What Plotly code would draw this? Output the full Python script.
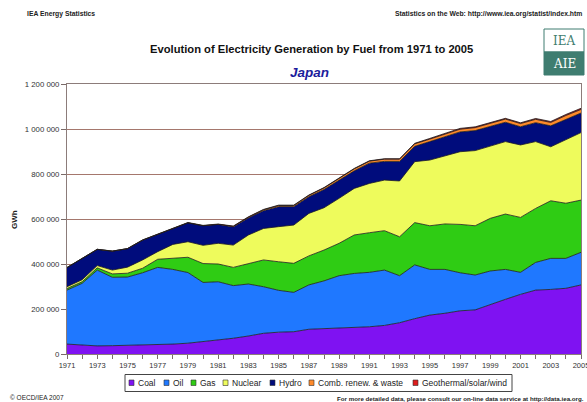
import plotly.graph_objects as go

# ---------------- data (GWh) ----------------
years = list(range(1971, 2006))
fuels = ["Coal", "Oil", "Gas", "Nuclear", "Hydro", "Comb. renew. & waste", "Geothermal/solar/wind"]

coal = [44000, 40000, 36000, 37000, 38000, 40000, 41000, 44000, 48000, 55000,
        62000, 70000, 80000, 92000, 97000, 99000, 110000, 112000, 114000, 116000,
        121000, 127000, 139000, 157000, 173000, 181000, 192000, 196000, 221000, 243000,
        265000, 284000, 287000, 292000, 307000]
oil = [240000, 274000, 337000, 304000, 304000, 321000, 344000, 332000, 314000, 263000,
       259000, 234000, 231000, 207000, 186000, 175000, 197000, 213000, 234000, 242000,
       242000, 246000, 209000, 239000, 203000, 195000, 169000, 155000, 148000, 133000,
       98000, 123000, 138000, 133000, 145000]
gas = [7000, 7000, 10000, 15000, 17000, 20000, 36000, 49000, 68000, 84000,
       79000, 81000, 92000, 119000, 127000, 129000, 129000, 137000, 144000, 171000,
       176000, 175000, 173000, 188000, 194000, 202000, 215000, 219000, 234000, 246000,
       244000, 240000, 256000, 245000, 232000]
nuclear = [8000, 9000, 10000, 17000, 27000, 37000, 34000, 62000, 69000, 81000,
           92000, 99000, 126000, 140000, 156000, 170000, 189000, 188000, 200000, 207000,
           219000, 225000, 248000, 271000, 292000, 302000, 323000, 334000, 321000, 322000,
           322000, 297000, 240000, 284000, 300000]
hydro = [85000, 93000, 72000, 84000, 82000, 88000, 76000, 72000, 84000, 87000,
         84000, 81000, 76000, 79000, 89000, 82000, 74000, 81000, 79000, 78000,
         90000, 83000, 87000, 68000, 82000, 85000, 88000, 89000, 87000, 86000,
         81000, 84000, 93000, 90000, 87000]
renew = [0, 0, 0, 0, 0, 0, 0, 0, 0, 0,
         0, 2000, 3000, 4000, 5000, 5000, 6000, 7000, 8000, 9000,
         9000, 10000, 10000, 11000, 11000, 12000, 12000, 13000, 13000, 14000,
         14000, 15000, 15000, 16000, 16000]
geo = [400, 500, 500, 600, 800, 1000, 1200, 1400, 1500, 1600,
       1600, 1600, 1600, 1600, 1600, 1600, 1600, 1600, 1600, 1700,
       1700, 1800, 1800, 2300, 3200, 3600, 3700, 3600, 3500, 3400,
       3600, 3800, 4300, 4600, 5000]

x_labels = [str(y) if (y - 1971) % 2 == 0 else "" for y in years]

series = [coal, oil, gas, nuclear, hydro, renew, geo]
colors = ["#7f12f2", "#1f78ff", "#2fcc14", "#eefb5c", "#000c7c", "#ff8a2a", "#dd1c1c"]

# ---------------- layout helpers ----------------
W, H = 587, 402
L, R, T, B = 67, 6, 84, 48
PW, PH = W - L - R, H - T - B
FONT = "Liberation Sans, Arial, sans-serif"


def px(x):
    return (x - L) / PW


def py(y):
    return (H - B - y) / PH


fig = go.Figure()
for name, vals, col in zip(fuels, series, colors):
    fig.add_trace(go.Scatter(
        x=years, y=vals, name=name, stackgroup="one", mode="lines",
        line=dict(color="#1a1a1a", width=0.8), fillcolor=col, showlegend=False,
    ))

shapes = []
annotations = []

# custom legend
shapes.append(dict(type="rect", xref="paper", yref="paper",
                   x0=px(125), x1=px(512), y0=py(391.5), y1=py(374.5),
                   line=dict(color="#444444", width=1), fillcolor="white", layer="above"))
sq_x = [129, 164, 191, 223, 270, 309, 413]
for name, col, x0 in zip(fuels, colors, sq_x):
    shapes.append(dict(type="rect", xref="paper", yref="paper",
                       x0=px(x0), x1=px(x0 + 5), y0=py(385.5), y1=py(380),
                       line=dict(color="#333333", width=0.6), fillcolor=col, layer="above"))
    annotations.append(dict(xref="paper", yref="paper", x=px(x0 + 7), y=py(383),
                            text=name, showarrow=False, xanchor="left", yanchor="middle",
                            font=dict(family=FONT, size=8.5, color="#222222")))

# titles and texts
annotations += [
    dict(xref="paper", yref="paper", x=px(311.5), y=py(49), text="<b>Evolution of Electricity Generation by Fuel from 1971 to 2005</b>",
         showarrow=False, xanchor="center", yanchor="middle", font=dict(family=FONT, size=11.2, color="#111111")),
    dict(xref="paper", yref="paper", x=px(309), y=py(72.5), text="<b><i>Japan</i></b>",
         showarrow=False, xanchor="center", yanchor="middle", font=dict(family=FONT, size=13.5, color="#1c1c9c")),
    dict(xref="paper", yref="paper", x=px(25), y=py(14), text="<b>IEA Energy Statistics</b>",
         showarrow=False, xanchor="left", yanchor="middle", font=dict(family=FONT, size=6.8, color="#222222")),
    dict(xref="paper", yref="paper", x=px(584), y=py(14), text="<b>Statistics on the Web: http://www.iea.org/statist/index.htm</b>",
         showarrow=False, xanchor="right", yanchor="middle", font=dict(family=FONT, size=6.8, color="#222222")),
    dict(xref="paper", yref="paper", x=px(8), y=py(397), text="© OECD/IEA 2007",
         showarrow=False, xanchor="left", yanchor="middle", font=dict(family=FONT, size=6.5, color="#222222")),
    dict(xref="paper", yref="paper", x=px(586), y=py(398.5), text="<b>For more detailed data, please consult our on-line data service at http://data.iea.org.</b>",
         showarrow=False, xanchor="right", yanchor="middle", font=dict(family=FONT, size=6.2, color="#222222")),
    dict(xref="paper", yref="paper", x=px(14), y=py(220), text="<b>GWh</b>", textangle=-90,
         showarrow=False, xanchor="center", yanchor="middle", font=dict(family=FONT, size=8, color="#222222")),
]

# logo
TEAL = "#3f7d70"
shapes.append(dict(type="rect", xref="paper", yref="paper", x0=px(544), x1=px(584), y0=py(52), y1=py(29),
                   line=dict(color=TEAL, width=1), fillcolor="white"))
shapes.append(dict(type="rect", xref="paper", yref="paper", x0=px(544), x1=px(584), y0=py(75), y1=py(52),
                   line=dict(color=TEAL, width=1), fillcolor=TEAL))
annotations += [
    dict(xref="paper", yref="paper", x=px(564), y=py(41), text="IEA", showarrow=False,
         xanchor="center", yanchor="middle", font=dict(family="DejaVu Serif, serif", size=12, color=TEAL)),
    dict(xref="paper", yref="paper", x=px(564), y=py(64), text="AIE", showarrow=False,
         xanchor="center", yanchor="middle", font=dict(family="DejaVu Serif, serif", size=12, color="white")),
]

fig.update_layout(
    width=W, height=H,
    margin=dict(l=L, r=R, t=T, b=B, pad=0, autoexpand=False),
    paper_bgcolor="white", plot_bgcolor="white",
    separators=". ",
    font=dict(family=FONT, size=8, color="#333333"),
    shapes=shapes, annotations=annotations,
    xaxis=dict(range=[1971, 2005], tickvals=years, ticktext=x_labels, ticks="outside", ticklen=4,
               tickcolor="#7a6a68", showline=True, linecolor="#8c7c7a", mirror=True, showgrid=False,
               zeroline=False, ticklabeloverflow="allow", automargin=False,
               tickfont=dict(family=FONT, size=7.5, color="#333333")),
    yaxis=dict(range=[0, 1200000], dtick=200000, tickformat=",d", ticks="outside", ticklen=5,
               tickcolor="#7a6a68", showline=True, linecolor="#8c7c7a", mirror=True,
               gridcolor="#a5776d", gridwidth=1, zeroline=False, automargin=False,
               tickfont=dict(family=FONT, size=7.8, color="#333333")),
)

fig.write_html("out.html", config={"displayModeBar": False},
               post_script="document.body.style.margin='0px';document.body.style.overflow='hidden';")
